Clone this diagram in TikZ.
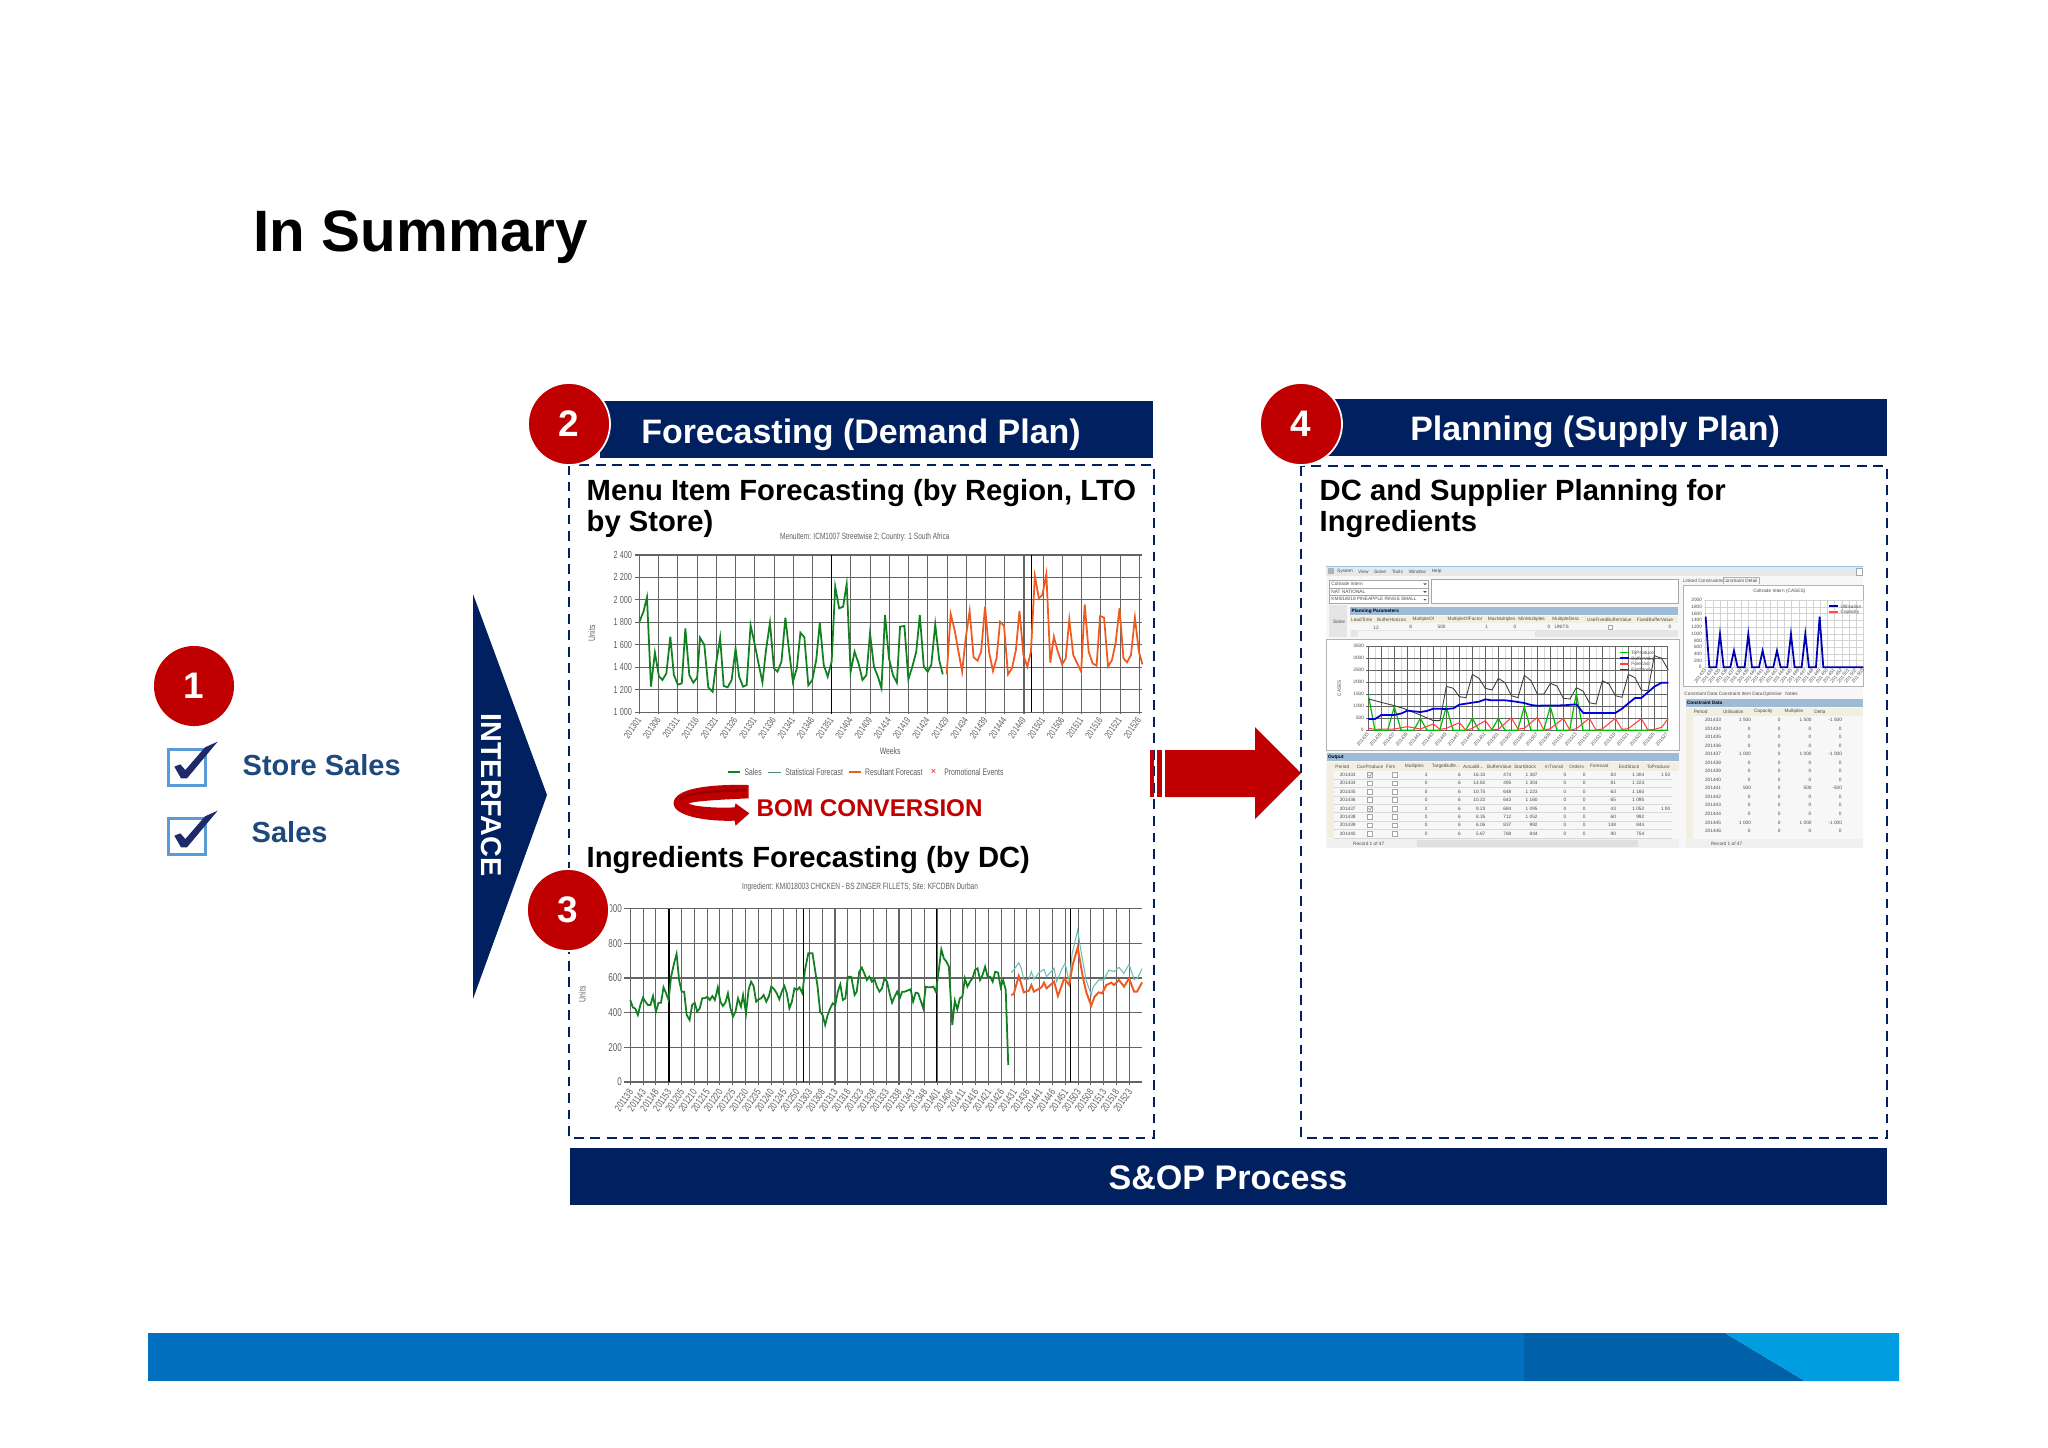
\documentclass[tikz,border=0pt]{standalone}
\usepackage{fontspec}
\setmainfont{Liberation Sans}
\newfontfamily\narrowfont[FakeStretch=0.72]{Liberation Sans}
\usepackage{tikz}
\usetikzlibrary{positioning, arrows.meta, shapes.geometric}

\definecolor{navycolor}{RGB}{0, 32, 96}
\definecolor{redcolor}{RGB}{192, 0, 0}
\definecolor{darkredcolor}{RGB}{150, 0, 0}
\definecolor{checkcolor}{RGB}{31, 42, 107}
\definecolor{boxcolor}{RGB}{91, 155, 213}
\definecolor{salescolor}{RGB}{31, 73, 125}
\definecolor{greencolor}{RGB}{16, 128, 32}
\definecolor{orangecolor}{RGB}{240, 90, 30}
\definecolor{tealcolor}{RGB}{110, 190, 180}
\definecolor{gridcolor}{RGB}{100, 100, 100}
\definecolor{labelcolor}{RGB}{95, 95, 95}
\definecolor{barcolor}{RGB}{157, 186, 214}
\definecolor{beigecolor}{RGB}{243, 239, 224}
\definecolor{bandcolor}{RGB}{0, 112, 191}
\definecolor{banddarkcolor}{RGB}{0, 96, 168}
\definecolor{bandlightcolor}{RGB}{0, 157, 224}

\newcommand{\threedots}{...}

\tikzset{
    numdot/.style={circle, fill=redcolor, draw=white, line width=0.5pt, minimum size=0.82cm, inner sep=0pt, text=white, font=\bfseries\fontsize{10.5}{12}\selectfont},
    headerbar/.style={fill=navycolor, text=white, inner sep=0pt, font=\bfseries\fontsize{9.65}{12}\selectfont},
    heading/.style={anchor=base west, inner sep=0pt, font=\bfseries\fontsize{8.31}{10}\selectfont},
    salestext/.style={anchor=base west, inner sep=0pt, text=salescolor, font=\bfseries\fontsize{8.25}{10}\selectfont},
    framebox/.style={draw=navycolor, line width=0.55pt, dash pattern=on 2.8pt off 1.9pt},
    chartlabel/.style={inner sep=0pt, text=labelcolor, font=\narrowfont\fontsize{2.7}{3.2}\selectfont},
    charttitle/.style={chartlabel, font=\narrowfont\fontsize{2.58}{3}\selectfont},
    valuelabel/.style={chartlabel, anchor=east, font=\narrowfont\fontsize{2.9}{3.4}\selectfont},
    weektick/.style={chartlabel, rotate=55, anchor=east},
    shot/.style={inner sep=0pt, text=labelcolor!80!black, font=\fontsize{1.35}{1.6}\selectfont},
    shothead/.style={shot, text=black, font=\bfseries\fontsize{1.35}{1.6}\selectfont},
    shotbox/.style={draw=gray!70, fill=white, line width=0.12pt},
}

\begin{document}
\begin{tikzpicture}[x=0.01cm, y=-0.01cm]
    \useasboundingbox (0,0) rectangle (2048,1447);
    \fill[white] (0,0) rectangle (2048,1447);

    % Title
    \node[anchor=base west, inner sep=0pt, font=\bfseries\fontsize{16.6}{20}\selectfont] (title) at (253, 251) {In Summary};

    % Store data on the left
    \node[numdot, draw=none, minimum size=0.8cm] (stepone) at (194, 686) {1};
    \foreach \dy in {0, 69} {
        \begin{scope}[shift={(131, 630+\dy)}, scale=0.3333]
            \draw[boxcolor, line width=0.85pt] (113, 357) rectangle (225, 467);
            \fill[checkcolor] (130, 410) -- (148, 403) -- (163, 420) -- (222, 352) -- (260, 335) -- (168, 445) -- (150, 445) -- cycle;
        \end{scope}
    }
    \node[salestext] (storesales) at (242, 775) {Store Sales};
    \node[salestext] (sales) at (251, 842) {Sales};

    % Interface chevron
    \fill[navycolor] (473, 594) -- (547, 795) -- (473, 999) -- cycle;
    \node[rotate=-90, text=white, inner sep=0pt, font=\bfseries\fontsize{8.2}{10}\selectfont] (interface) at (491, 795) {INTERFACE};

    % Header bars
    \fill[navycolor] (600, 401) rectangle (1153, 458);
    \node[headerbar] (forecasting) at (861, 435) {Forecasting (Demand Plan)};
    \fill[navycolor] (1320, 399) rectangle (1887, 456);
    \node[headerbar] (planning) at (1595, 432) {Planning (Supply Plan)};

    % Dashed frames
    \draw[framebox] (569, 465) rectangle (1154, 1138);
    \draw[framebox] (1301, 466) rectangle (1887, 1138);

    % Headings
    \node[heading] (menuhead) at (586, 500) {Menu Item Forecasting (by Region, LTO};
    \node[heading] (menuheadb) at (586, 531) {by Store)};
    \node[heading] (ingredhead) at (586, 867) {Ingredients Forecasting (by DC)};
    \node[heading] (dchead) at (1319, 500) {DC and Supplier Planning for};
    \node[heading] (dcheadb) at (1319, 531) {Ingredients};

    % Menu item chart
    \begin{scope}[shift={(560, 380)}, xscale=0.3954, yscale=0.3333]
        \node[charttitle] (menutitle) at (771, 472) {MenuItem: ICM1007 Streetwise 2; Country: 1 South Africa};
        \foreach \val [count=\i from 0] in {2 400, 2 200, 2 000, 1 800, 1 600, 1 400, 1 200, 1 000} {
            \draw[gridcolor, line width=0.3pt] (190, {525+67.43*\i}) -- (1472, {525+67.43*\i});
            \node[valuelabel] (menuval\i) at (184, {525+67.43*\i}) {\val};
        }
        \foreach \wk [count=\i from 0] in {201301, 201306, 201311, 201316, 201321, 201326, 201331, 201336, 201341, 201346, 201351, 201404, 201409, 201414, 201419, 201424, 201429, 201434, 201439, 201444, 201449, 201501, 201506, 201511, 201516, 201521, 201526} {
            \draw[gridcolor, line width=0.3pt] ({201+48.62*\i}, 525) -- ({201+48.62*\i}, 1003);
            \node[weektick] (menuwk\i) at ({201+48.62*\i}, 1014) {\wk};
        }
        \draw[black, line width=0.4pt] (687, 525) -- (687, 1003);
        \draw[black, line width=0.4pt] (1192, 525) -- (1192, 997);
        \node[chartlabel, rotate=90] (menuunits) at (80, 760) {Units};
        \node[chartlabel] (menuweeks) at (835, 1114) {Weeks};
        % Sales
        \draw[greencolor, line width=0.5pt] plot coordinates {(201,725) (211,695) (220,652) (230,920) (240,818) (250,888) (259,900) (269,880) (279,770) (288,885) (298,914) (308,910) (317,745) (327,885) (337,908) (347,893) (354,773) (365,795) (375,922) (386,935) (395,850) (405,773) (414,918) (424,922) (434,900) (444,805) (453,890) (463,920) (472,915) (482,736) (492,790) (502,850) (512,907) (521,810) (531,728) (541,865) (550,875) (560,845) (570,713) (580,820) (589,905) (599,865) (608,758) (618,772) (628,916) (638,900) (648,840) (657,728) (667,855) (677,890) (687,845) (696,620) (706,685) (716,680) (725,612) (735,875) (745,815) (755,850) (765,900) (775,885) (784,760) (794,860) (804,890) (813,925) (822,705) (832,835) (842,885) (852,908) (860,740) (871,738) (881,898) (891,860) (901,815) (910,705) (920,860) (930,875) (939,855) (949,733) (959,840) (968,883)};
        % Resultant forecast
        \draw[orangecolor, line width=0.5pt] plot coordinates {(978,883) (988,702) (998,750) (1007,810) (1017,875) (1026,775) (1036,693) (1046,832) (1056,842) (1065,815) (1075,680) (1085,815) (1095,873) (1104,835) (1113,725) (1123,738) (1133,883) (1143,865) (1153,810) (1162,693) (1172,825) (1182,860) (1191,815) (1201,588) (1211,655) (1220,645) (1230,582) (1240,848) (1249,770) (1259,815) (1270,853) (1279,835) (1288,718) (1298,825) (1308,850) (1318,875) (1327,673) (1337,815) (1347,850) (1357,857) (1366,708) (1376,713) (1386,860) (1396,840) (1405,790) (1415,685) (1425,835) (1434,847) (1444,825) (1454,713) (1464,815) (1473,853)};
        % Legend
        \draw[greencolor, line width=0.55pt] (424, 1177) -- (456, 1177);
        \node[chartlabel, anchor=west] (legsales) at (465, 1177) {Sales};
        \draw[tealcolor!70!black, line width=0.4pt] (527, 1177) -- (560, 1177);
        \node[chartlabel, anchor=west] (legstat) at (568, 1177) {Statistical Forecast};
        \draw[orangecolor, line width=0.55pt] (730, 1177) -- (762, 1177);
        \node[chartlabel, anchor=west] (legres) at (770, 1177) {Resultant Forecast};
        \node[text=red, inner sep=0pt, font=\fontsize{2.6}{3}\selectfont] (legmark) at (945, 1176) {×};
        \node[chartlabel, anchor=west] (legpromo) at (970, 1177) {Promotional Events};
    \end{scope}

    % Ingredients chart and BOM arrow
    \begin{scope}[shift={(520, 780)}, xscale=0.4209, yscale=0.3333]
        \fill[redcolor] (543, 15) .. controls (450, 12) and (365, 25) .. (365, 70) .. controls (365, 110) and (450, 125) .. (510, 122) -- (512, 137) -- (545, 100) -- (512, 70) -- (510, 82) .. controls (470, 85) and (410, 80) .. (400, 70) .. controls (420, 62) and (490, 58) .. (543, 55) -- cycle;
        \draw[darkredcolor, line width=0.7pt] (538, 32) .. controls (470, 30) and (400, 38) .. (380, 58);
        \node[charttitle] (ingtitle) at (808, 322) {Ingredient: KMI018003 CHICKEN - BS ZINGER FILLETS; Site: KFCDBN Durban};
        \foreach \val [count=\i from 0] in {000, 800, 600, 400, 200, 0} {
            \draw[gridcolor, line width=0.3pt] (248, {386+104*\i}) -- (1478, {386+104*\i});
            \node[valuelabel, font=\narrowfont\fontsize{3.2}{3.6}\selectfont] (ingval\i) at (244, {386+104*\i}) {\val};
        }
        \foreach \wk [count=\i from 0] in {201138, 201143, 201148, 201153, 201205, 201210, 201215, 201220, 201225, 201230, 201235, 201240, 201245, 201250, 201303, 201308, 201313, 201318, 201323, 201328, 201333, 201338, 201343, 201348, 201401, 201406, 201411, 201416, 201421, 201426, 201431, 201436, 201441, 201446, 201451, 201503, 201508, 201513, 201518, 201523} {
            \draw[gridcolor, line width=0.3pt] ({262+30.4*\i}, 386) -- ({262+30.4*\i}, 914);
            \node[weektick, font=\narrowfont\fontsize{2.9}{3.4}\selectfont] (ingwk\i) at ({264+30.4*\i}, 930) {\wk};
        }
        \foreach \xp in {354, 673, 990, 1307} {
            \draw[black, line width=0.35pt] (\xp, 386) -- (\xp, 906);
        }
        \node[chartlabel, rotate=90] (ingunits) at (148, 643) {Units};
        % Statistical forecast
        \draw[tealcolor, line width=0.3pt] plot coordinates {(1167,578) (1173,570) (1185,548) (1191,565) (1197,598) (1209,598) (1215,575) (1221,598) (1233,578) (1245,568) (1251,590) (1269,565) (1275,605) (1287,568) (1295,550) (1305,605) (1312,520) (1325,450) (1331,500) (1345,600) (1357,645) (1362,620) (1375,600) (1387,600) (1399,570) (1411,575) (1423,562) (1435,580) (1447,553) (1459,598) (1467,595) (1478,566)};
        % Sales
        \draw[greencolor, line width=0.5pt] plot coordinates {(262,660) (268,682) (274,686) (280,705) (286,675) (292,653) (298,665) (304,675) (310,675) (316,648) (323,695) (329,668) (335,668) (341,622) (347,640) (353,660) (359,590) (366,550) (372,522) (378,600) (384,635) (390,635) (396,705) (403,720) (409,675) (415,668) (421,695) (427,685) (433,655) (439,655) (445,650) (451,660) (457,648) (463,660) (470,622) (476,665) (482,678) (488,668) (494,640) (500,685) (506,710) (512,695) (518,655) (525,680) (530,645) (537,700) (543,630) (549,605) (555,618) (561,665) (567,658) (573,655) (579,645) (585,665) (591,650) (597,620) (604,628) (610,640) (616,658) (622,635) (628,618) (634,640) (640,685) (646,665) (652,625) (658,630) (664,622) (671,640) (677,570) (685,520) (695,520) (701,570) (707,620) (713,695) (719,705) (725,735) (731,705) (737,685) (743,670) (749,675) (755,635) (761,613) (767,660) (773,655) (779,590) (787,590) (795,645) (800,635) (806,575) (812,563) (818,580) (824,600) (830,590) (836,605) (842,597) (848,620) (854,635) (860,625) (866,595) (872,605) (878,640) (884,668) (890,650) (896,635) (902,655) (908,635) (914,635) (920,632) (928,628) (934,665) (940,638) (946,640) (952,662) (958,685) (964,620) (970,622) (976,622) (982,620) (988,635) (995,570) (1001,508) (1007,535) (1013,545) (1019,560) (1027,735) (1033,662) (1039,688) (1045,655) (1051,650) (1057,595) (1063,620) (1069,605) (1075,595) (1081,570) (1087,565) (1093,600) (1099,585) (1105,560) (1111,590) (1117,590) (1123,605) (1129,575) (1136,578) (1142,622) (1148,600) (1154,630) (1160,855)};
        % Resultant forecast
        \draw[orangecolor, line width=0.55pt] plot coordinates {(1167,645) (1173,642) (1185,588) (1197,637) (1209,632) (1215,615) (1221,635) (1239,622) (1245,608) (1251,625) (1269,605) (1278,648) (1293,595) (1305,615) (1313,555) (1325,502) (1337,590) (1345,635) (1357,677) (1365,650) (1375,637) (1383,640) (1393,615) (1405,608) (1411,615) (1423,600) (1435,620) (1447,595) (1459,635) (1466,635) (1478,607)};
    \end{scope}
    \node[anchor=base west, inner sep=0pt, text=redcolor, font=\bfseries\fontsize{6.88}{9}\selectfont] (bom) at (756, 816) {BOM CONVERSION};

    % Planning screenshot
    \begin{scope}[shift={(1310, 550)}, scale=0.3333]
        \fill[gray!6] (48, 50) rectangle (1660, 893);
        \fill[gray!18] (48, 50) rectangle (1660, 78);
        \draw[boxcolor!60, line width=0.2pt] (48, 50) -- (1660, 50);
        \foreach \lbl/\xp in {System/105, View/160, Solve/210, Tools/262, Window/322, Help/380} {
            \node[shot] (menu\lbl) at (\xp, 64) {\lbl};
        }
        \fill[gray!60] (54, 55) rectangle (72, 73);
        \draw[shotbox] (1640, 55) rectangle (1658, 75);
        % Selection fields
        \foreach \choice [count=\i from 0] in {Coltrade Intern, NAT NATIONAL, KMI018018 PINEAPPLE RINGS SMALL} {
            \draw[shotbox] (58, {90+23.5*\i}) rectangle (355, {113.5+23.5*\i});
            \fill[black!70] (340, {100+23.5*\i}) -- (350, {100+23.5*\i}) -- (345, {105+23.5*\i}) -- cycle;
            \node[shot, anchor=west] (choice\i) at (62, {101+23.5*\i}) {\choice};
        }
        \draw[shotbox] (364, 88) rectangle (1105, 160);
        % Planning parameters
        \fill[gray!20] (58, 165) rectangle (112, 262);
        \node[shot] (solvebtn) at (87, 216) {Solve};
        \fill[barcolor] (120, 172) rectangle (1105, 195);
        \node[shothead, anchor=west] (planpar) at (123, 183) {Planning Parameters};
        \fill[beigecolor] (120, 198) rectangle (1105, 220);
        \foreach \lbl/\xp [count=\i from 0] in {LeadTime/155, BufferHorizon/245, MultipleOf/340, MultipleOfFactor/465, MaxMultiples/575, MinMultiples/665, MultipleDesc/768, UseFixedBufferValue/898, FixedBufferValue/1035} {
            \node[shot] (param\i) at (\xp, 209) {\lbl};
        }
        \foreach \lbl/\xp [count=\i from 0] in {12/198, 8/302, 500/395, 1/530, 0/615, 0/717, UNITS/755, 0/1080} {
            \node[shot] (paramval\i) at (\xp, 232) {\lbl};
        }
        \draw[shotbox] (894, 225) rectangle (908, 239);
        \fill[gray!20] (122, 241) rectangle (1105, 262);
        \fill[gray!8] (145, 243) rectangle (675, 260);

        % Stock chart
        \draw[gray!60, fill=white, line width=0.25pt] (50, 268) rectangle (1108, 600);
        \foreach \i in {0,...,46} {
            \draw[gray!30, line width=0.1pt] ({175+19.5*\i}, 288) -- ({175+19.5*\i}, 541);
        }
        \foreach \val [count=\i from 0] in {3500, 3000, 2500, 2000, 1500, 1000, 500, 0} {
            \draw[gridcolor, line width=0.15pt] (168, {288+36.14*\i}) -- (1075, {288+36.14*\i});
            \node[shot, anchor=east] (stockval\i) at (164, {288+36.14*\i}) {\val};
        }
        \foreach \wk [count=\i from 0] in {201433, 201435, 201437, 201439, 201441, 201443, 201445, 201447, 201449, 201451, 201501, 201503, 201505, 201507, 201509, 201511, 201513, 201515, 201517, 201519, 201521, 201523, 201525, 201527} {
            \draw[gridcolor, line width=0.15pt] ({175+39*\i}, 288) -- ({175+39*\i}, 541);
            \node[shot, rotate=50, anchor=east] (stockwk\i) at ({175+39*\i}, 548) {\wk};
        }
        \node[shot, rotate=90] (cases) at (88, 415) {CASES};
        \draw[green!75!black, line width=0.35pt] (175, 435) -- (195, 541) -- (233, 541) -- (253, 470) -- (273, 541) -- (311, 541) -- (331, 505) -- (351, 541) -- (389, 541) -- (409, 470) -- (429, 541) -- (467, 541) -- (487, 505) -- (507, 541) -- (545, 541) -- (565, 505) -- (585, 541) -- (623, 541) -- (643, 470) -- (663, 541) -- (701, 541) -- (721, 470) -- (741, 541) -- (779, 541) -- (799, 430) -- (819, 541) -- (1075, 541);
        \draw[red!75, line width=0.3pt] plot coordinates {(175,535) (195,538) (253,537) (292,530) (331,537) (370,522) (390,538) (409,535) (448,518) (468,541) (487,535) (526,512) (546,539) (565,538) (604,503) (624,537) (643,535) (682,502) (702,541) (721,536) (760,505) (780,541) (799,536) (838,505) (858,540) (877,537) (916,505) (936,538) (955,536) (994,506) (1014,540) (1033,538) (1055,532) (1075,505)};
        \draw[black!75, line width=0.25pt] plot coordinates {(175,447) (214,457) (253,467) (280,475) (331,495) (370,512) (390,512) (409,409) (430,415) (448,440) (468,443) (487,373) (507,385) (526,415) (546,420) (565,385) (585,398) (604,437) (624,443) (643,376) (663,392) (682,432) (702,432) (721,400) (741,408) (760,445) (780,447) (799,413) (819,423) (838,458) (858,462) (877,392) (897,402) (916,437) (936,442) (955,373) (975,383) (994,420) (1014,422) (1033,317) (1055,325) (1075,360)};
        \draw[blue!85!black, line width=0.5pt] plot coordinates {(175,507) (195,507) (214,495) (253,495) (275,490) (292,482) (331,486) (350,483) (370,476) (409,477) (430,475) (448,464) (487,458) (507,455) (526,448) (545,451) (585,451) (604,453) (643,459) (663,465) (682,467) (760,466) (799,463) (820,489) (916,489) (936,476) (955,460) (975,444) (994,444) (1033,410) (1055,398) (1075,398)};
        % Stock legend
        \draw[green!75!black, line width=0.35pt] (930, 308) -- (956, 308);
        \node[shot, anchor=west] (legproduce) at (962, 308) {ToProduce};
        \draw[blue!85!black, line width=0.5pt] (930, 325) -- (956, 325);
        \node[shot, anchor=west] (legbuffer) at (962, 325) {BufferValue};
        \draw[red!75, line width=0.3pt] (930, 342) -- (956, 342);
        \node[shot, anchor=west] (legforecast) at (962, 342) {Forecast};
        \draw[black!75, line width=0.25pt] (930, 358) -- (956, 358);
        \node[shot, anchor=west] (legstock) at (962, 358) {EndStock};

        % Output table
        \fill[barcolor] (50, 610) rectangle (1108, 632);
        \node[shothead, anchor=west] (outputbar) at (52, 621) {Output};
        \fill[beigecolor] (50, 636) rectangle (1108, 662);
        \fill[beigecolor] (52, 662) rectangle (72, 865);
        \foreach \lbl/\xp [count=\i from 0] in {Period/97, CanProduce/180, Firm/242, Multiples/313, TargetBuffe\threedots/408, ActualB\threedots/490, BufferValue/568, StartStock/645, InTransit/733, Orders/800, Forecast/868, EndStock/957, ToProduce/1045} {
            \node[shot] (outhead\i) at (\xp, 649) {\lbl};
        }
        \foreach \pd/\mult/\cover/\buffer/\startv/\fcst/\endv/\prodv [count=\i from 0] in {201433/3/16.33/474/1 387/83/1 304/1 50, 201434/0/14.82/495/1 304/81/1 223/{}, 201435/0/10.75/648/1 223/63/1 160/{}, 201436/0/10.22/643/1 160/65/1 095/{}, 201437/2/9.23/684/1 095/43/1 052/1 00, 201438/0/8.35/712/1 052/60/992/{}, 201439/0/6.06/837/992/148/844/{}, 201440/0/5.67/788/844/90/754/{}} {
            \pgfmathsetmacro{\rowy}{674+25.3*\i}
            \draw[gray!30, line width=0.08pt] (72, \rowy+12.6) -- (1085, \rowy+12.6);
            \node[shot] (outpd\i) at (113, \rowy) {\pd};
            \draw[gray!70, line width=0.12pt, fill=white] (173, \rowy-7) rectangle (188, \rowy+7);
            \draw[gray!70, line width=0.12pt, fill=white] (246, \rowy-7) rectangle (261, \rowy+7);
            \node[shot, anchor=east] (outmult\i) at (356, \rowy) {\mult};
            \node[shot, anchor=east] (outtarget\i) at (456, \rowy) {6};
            \node[shot, anchor=east] (outcover\i) at (528, \rowy) {\cover};
            \node[shot, anchor=east] (outbuffer\i) at (606, \rowy) {\buffer};
            \node[shot, anchor=east] (outstart\i) at (685, \rowy) {\startv};
            \node[shot, anchor=east] (outtransit\i) at (772, \rowy) {0};
            \node[shot, anchor=east] (outorder\i) at (830, \rowy) {0};
            \node[shot, anchor=east] (outfcst\i) at (920, \rowy) {\fcst};
            \node[shot, anchor=east] (outend\i) at (1005, \rowy) {\endv};
            \node[shot, anchor=east] (outprod\i) at (1083, \rowy) {\prodv};
        }
        \draw[gray!80, line width=0.2pt] (175, 674) -- (180, 679) -- (186, 669);
        \draw[gray!80, line width=0.2pt] (175, 775) -- (180, 780) -- (186, 770);
        \fill[gray!12] (50, 868) rectangle (1108, 893);
        \node[shot] (outrecord) at (176, 880) {Record 1 of 47};
        \fill[gray!25] (320, 871) rectangle (985, 890);

        % Constraint chart
        \node[shot] (tablinked) at (1178, 93) {Linked Constraints};
        \node[shot] (tabdetail) at (1290, 92) {Constraint Detail};
        \draw[gray!60, line width=0.15pt] (1240, 102) -- (1240, 82) -- (1347, 82) -- (1347, 102);
        \draw[gray!60, fill=white, line width=0.25pt] (1120, 107) rectangle (1660, 408);
        \node[shot] (coltitle) at (1408, 124) {Coltrade Intern (CASES)};
        \foreach \i in {0,...,22} {
            \draw[gray!35, line width=0.1pt] ({1187+21.5*\i}, 150) -- ({1187+21.5*\i}, 352);
        }
        \foreach \val [count=\i from 0] in {2000, 1800, 1600, 1400, 1200, 1000, 800, 600, 400, 200, 0} {
            \draw[gray!35, line width=0.1pt] (1182, {150+20.2*\i}) -- (1660, {150+20.2*\i});
            \node[shot, anchor=east] (colval\i) at (1178, {150+20.2*\i}) {\val};
        }
        \foreach \wk [count=\i from 0] in {201433, 201434, 201435, 201436, 201437, 201438, 201439, 201440, 201441, 201442, 201443, 201444, 201445, 201446, 201447, 201448, 201449, 201450, 201451, 201452, 201501, 201502, 201503} {
            \node[shot, rotate=50, anchor=east] (colwk\i) at ({1187+21.5*\i}, 358) {\wk};
        }
        \draw[blue!70!black, line width=0.5pt] (1187, 200) -- (1198, 352) -- (1219, 352) -- (1230, 252) -- (1241, 352) -- (1261, 352) -- (1272, 302) -- (1283, 352) -- (1304, 352) -- (1315, 252) -- (1326, 352) -- (1347, 352) -- (1358, 302) -- (1369, 352) -- (1390, 352) -- (1401, 302) -- (1412, 352) -- (1432, 352) -- (1443, 252) -- (1454, 352) -- (1475, 352) -- (1486, 252) -- (1497, 352) -- (1518, 352) -- (1529, 200) -- (1540, 352) -- (1660, 352);
        \draw[blue!70!black, line width=0.5pt] (1558, 169) -- (1585, 169);
        \node[shot, anchor=west] (legutil) at (1590, 169) {Utilisation};
        \draw[red!70, line width=0.5pt] (1558, 187) -- (1585, 187);
        \node[shot, anchor=west] (legcap) at (1590, 187) {Capacity};

        % Constraint table
        \foreach \lbl/\xp [count=\i from 0] in {Constraint Data/1173, Constraint Item Data/1292, Optimise/1387, Notes/1445} {
            \node[shot] (contab\i) at (\xp, 432) {\lbl};
        }
        \fill[barcolor] (1127, 447) rectangle (1660, 472);
        \node[shothead, anchor=west] (conbar) at (1129, 459) {Constraint Data};
        \fill[beigecolor] (1127, 474) rectangle (1660, 497);
        \fill[beigecolor] (1127, 497) rectangle (1148, 866);
        \foreach \lbl/\xp [count=\i from 0] in {Period/1172, Utilisation/1270, Capacity/1360, Multiples/1452, Delta/1530} {
            \node[shot] (conhead\i) at (\xp, 485) {\lbl};
        }
        \foreach \pd/\used/\deltav [count=\i from 0] in {201433/1 500/-1 500, 201434/0/0, 201435/0/0, 201436/0/0, 201437/1 000/-1 000, 201438/0/0, 201439/0/0, 201440/0/0, 201441/500/-500, 201442/0/0, 201443/0/0, 201444/0/0, 201445/1 000/-1 000, 201446/0/0} {
            \pgfmathsetmacro{\rowy}{510+25.6*\i}
            \node[shot, anchor=east] (conpd\i) at (1235, \rowy) {\pd};
            \node[shot, anchor=east] (conused\i) at (1325, \rowy) {\used};
            \node[shot, anchor=east] (concap\i) at (1415, \rowy) {0};
            \node[shot, anchor=east] (conmult\i) at (1507, \rowy) {\used};
            \node[shot, anchor=east] (condelta\i) at (1598, \rowy) {\deltav};
        }
        \fill[gray!12] (1127, 868) rectangle (1660, 893);
        \node[shot] (conrecord) at (1250, 880) {Record 1 of 47};
    \end{scope}

    % Big arrow between plans
    \fill[redcolor] (1150, 750) rectangle (1153.5, 797);
    \fill[redcolor] (1156.5, 750) rectangle (1162, 797);
    \fill[redcolor] (1165, 750) -- (1255, 750) -- (1255, 727) -- (1301, 773) -- (1255, 819) -- (1255, 797) -- (1165, 797) -- cycle;

    % Numbered circles
    \node[numdot] (steptwo) at (569, 424) {2};
    \node[numdot] (stepthree) at (568, 910) {3};
    \node[numdot] (stepfour) at (1301, 424) {4};

    % S&OP bar
    \fill[navycolor] (569.5, 1148) rectangle (1887, 1205);
    \node[text=white, inner sep=0pt, font=\bfseries\fontsize{9.7}{12}\selectfont] (sop) at (1228, 1178) {S\&OP Process};

    % Bottom band
    \fill[bandcolor] (148, 1333) rectangle (1524, 1381);
    \fill[banddarkcolor] (1524, 1333) -- (1725, 1333) -- (1805, 1381) -- (1524, 1381) -- cycle;
    \fill[bandlightcolor] (1725, 1333) -- (1899, 1333) -- (1899, 1381) -- (1805, 1381) -- cycle;
\end{tikzpicture}
\end{document}
